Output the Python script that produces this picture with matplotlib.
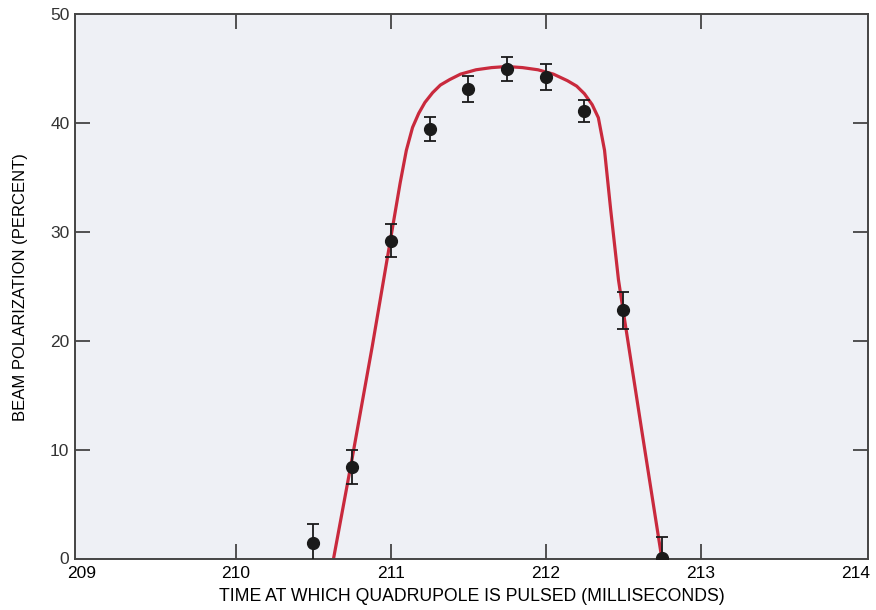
import matplotlib
matplotlib.use("Agg")
import matplotlib.pyplot as plt

plt.rcParams['font.family'] = ['Liberation Sans', 'DejaVu Sans']

# Measured data points (time in ms, polarization in percent, error)
time_ms = [210.5, 210.75, 211.0, 211.25, 211.5, 211.75, 212.0, 212.25, 212.5, 212.75]
polarization = [1.4, 8.4, 29.2, 39.5, 43.1, 45.0, 44.2, 41.1, 22.8, 0.0]
errors = [1.8, 1.6, 1.5, 1.1, 1.2, 1.1, 1.2, 1.0, 1.7, 2.0]

# Fitted curve
curve_x = [210.55, 210.63, 210.75, 210.88, 211.0, 211.06, 211.1, 211.14, 211.18, 211.22,
           211.27, 211.32, 211.38, 211.45, 211.55, 211.65, 211.75, 211.85, 211.95, 212.05,
           212.14, 212.2, 212.25, 212.3, 212.34, 212.38, 212.42, 212.47, 212.5, 212.62,
           212.75, 212.8]
curve_y = [-6.0, 0.0, 9.2, 19.5, 29.5, 34.5, 37.5, 39.6, 40.9, 41.9,
           42.8, 43.5, 44.0, 44.5, 44.9, 45.1, 45.2, 45.1, 44.9, 44.5,
           43.9, 43.4, 42.7, 41.7, 40.5, 37.5, 32.0, 25.6, 22.8, 11.8,
           0.0, -4.0]

x_ticks = [209, 210, 211, 212, 213, 214]
y_ticks = [0, 10, 20, 30, 40, 50]

fig = plt.figure(figsize=(8.76, 6.10), dpi=100)
fig.patch.set_facecolor('white')
ax = fig.add_axes([0.0856, 0.0836, 0.905, 0.893])
ax.set_facecolor('#eef0f5')

ax.plot(curve_x, curve_y, color='#c92a3d', lw=2.3, zorder=2, solid_capstyle='butt')
ax.errorbar(time_ms, polarization, yerr=errors, fmt='o', color='#1a1a1a',
            ms=8.5, elinewidth=1.3, capsize=4.5, capthick=1.3, zorder=3)

ax.set_xlim(208.96, 214.08)
ax.set_ylim(-0.05, 50)
ax.set_xticks(x_ticks)
ax.set_yticks(y_ticks)
ax.set_xticklabels([str(t) for t in x_ticks])
ax.set_yticklabels([str(t) for t in y_ticks])

ax.tick_params(axis='both', direction='in', length=11, width=1.3, color='#444444',
               top=True, right=True, labelsize=12.5, pad=5)
ax.tick_params(axis='y', labelcolor='#333333', pad=4)
for s in ax.spines.values():
    s.set_color('#444444')
    s.set_linewidth(1.4)

# hide ticks at the very corners (209/214 and 0/50)
for t in ax.xaxis.get_major_ticks():
    if t.get_loc() in (209, 214):
        t.tick1line.set_visible(False)
        t.tick2line.set_visible(False)
for t in ax.yaxis.get_major_ticks():
    if t.get_loc() in (0, 50):
        t.tick1line.set_visible(False)
        t.tick2line.set_visible(False)

ax.set_xlabel('TIME AT WHICH QUADRUPOLE IS PULSED (MILLISECONDS)', fontsize=12.7, labelpad=5)
ax.set_ylabel('BEAM POLARIZATION (PERCENT)', fontsize=12, labelpad=16)

fig.savefig('out.png', dpi=100)
